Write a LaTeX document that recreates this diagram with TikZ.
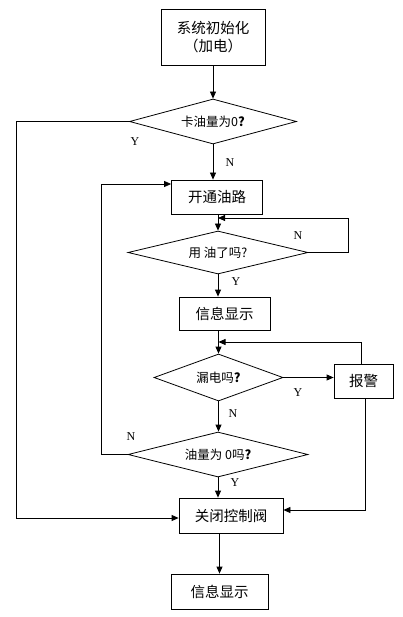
\documentclass[tikz,border=0pt]{standalone}
\usepackage{fontspec}
\setmainfont{Liberation Serif}
\newfontfamily\cjk{Noto Sans CJK SC}
\usetikzlibrary{shapes.geometric,arrows.meta}
\begin{document}
\begin{tikzpicture}[x=1pt,y=-1pt,line width=0.8pt,
  box/.style={draw,rectangle,inner sep=0pt,font=\cjk\fontsize{14.5}{18}\selectfont,align=center},
  dia/.style={draw,diamond,inner sep=0pt,aspect=3.7,font=\cjk\fontsize{12.5}{15}\selectfont},
  arr/.style={-{Triangle[length=7pt,width=6pt]}},
  lab/.style={font=\fontsize{12}{14}\selectfont,inner sep=0pt}]
\useasboundingbox (0,0) rectangle (402,617);
% nodes
\node[box,minimum width=104pt,minimum height=56pt] (b1) at (213,37) {系统初始化\\（加电）};
\node[dia,minimum width=167pt,minimum height=45pt] (d1) at (213,121.5) {卡油量为0\textbf{?}};
\node[box,minimum width=91pt,minimum height=34pt] (b2) at (217,197) {开通油路};
\node[dia,minimum width=180pt,minimum height=43pt] (d2) at (218,252.5) {用 油了吗?};
\node[box,minimum width=91pt,minimum height=33pt] (b3) at (224.5,313.5) {信息显示};
\node[dia,minimum width=129pt,minimum height=47pt] (d3) at (218.5,377.5) {漏电吗\textbf{?}};
\node[box,minimum width=59pt,minimum height=34pt] (bj) at (363.5,381) {报警};
\node[dia,minimum width=180pt,minimum height=45pt] (d4) at (218,454.5) {油量为 0吗\textbf{?}};
\node[box,minimum width=104pt,minimum height=35pt] (b5) at (231,515.5) {关闭控制阀};
\node[box,minimum width=97pt,minimum height=35pt] (b6) at (219.5,591.5) {信息显示};
% corner coordinates
\coordinate (c1) at (16,518);
\coordinate (n2) at (348,218);
\coordinate (c3) at (361,342);
\coordinate (c4) at (101,184);
\coordinate (c5) at (365,510);
% connectors
\draw[arr] (b1.south) -- (d1.north);
\draw[arr] (d1.south) -- (d1.south |- b2.north);
\draw[arr] (d1.west) -- (d1.west -| c1) -- (c1) -- (c1 -| b5.west);
\draw[arr] (b2.south -| d2.north) -- (d2.north);
\draw[arr] (d2.east) -- (d2.east -| n2) -- (n2) -- (n2 -| d2.north);
\draw[arr] (d2.south) -- (d2.south |- b3.north);
\draw[arr] (d3.north |- b3.south) -- (d3.north);
\draw[arr] (d3.east) -- (d3.east -| bj.west);
\draw[arr] (c3 |- bj.north) -- (c3) -- (c3 -| d3.north);
\draw[arr] (d3.south) -- (d3.south |- d4.north);
\draw[arr] (d4.west) -- (d4.west -| c4) -- (c4) -- (c4 -| b2.west);
\draw[arr] (d4.south) -- (d4.south |- b5.north);
\draw[arr] (c5 |- bj.south) -- (c5) -- (c5 -| b5.east);
\draw[arr] (b6.north |- b5.south) -- (b6.north);
% labels
\node[lab] (y1) at (135,142) {Y};
\node[lab] (n1) at (230,163) {N};
\node[lab] (n2l) at (298,236) {N};
\node[lab] (y2) at (236,282) {Y};
\node[lab] (y3) at (298,393) {Y};
\node[lab] (n3) at (233,414) {N};
\node[lab] (n4) at (131,437) {N};
\node[lab] (y4) at (235,483) {Y};
\end{tikzpicture}
\end{document}
